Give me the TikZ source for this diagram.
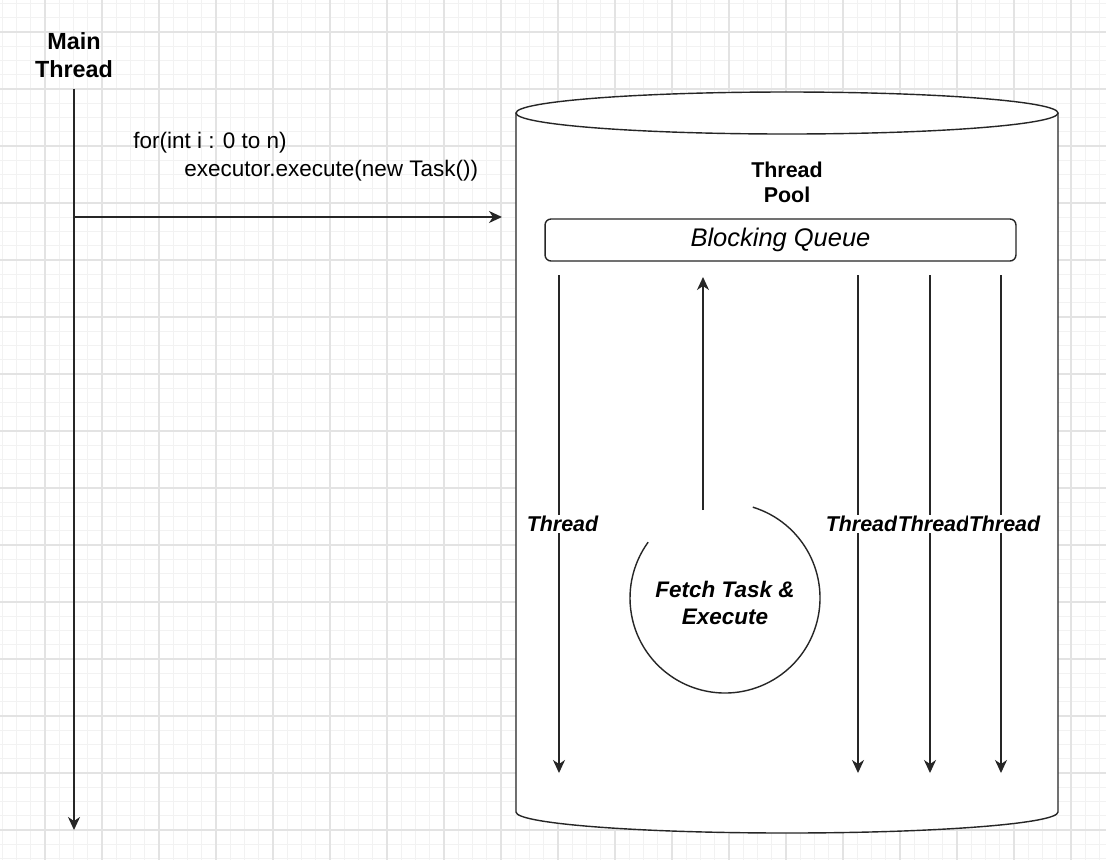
\documentclass[tikz,border=0pt]{standalone}
\usepackage{fontspec}
\setmainfont{Liberation Sans}
\usepackage{tikz}
\usetikzlibrary{arrows.meta, positioning}

\begin{document}
\begin{tikzpicture}[
    x=0.02cm, y=-0.02cm,
    every node/.style={font=\fontsize{12.8}{16.4}\selectfont},
    gridminor/.style={line width=0.4pt, black!5},
    gridmajor/.style={line width=0.6pt, black!11},
    ttl/.style={align=center, inner sep=0pt, font=\fontsize{13.3}{15.9}\selectfont\bfseries},
    pooltl/.style={align=center, inner sep=0pt, font=\fontsize{12.2}{14.2}\selectfont\bfseries},
    codelbl/.style={align=left, inner sep=0pt, font=\fontsize{12.8}{16.4}\selectfont},
    pool/.style={draw=black!85, line width=0.8pt, fill=white},
    queue/.style={rectangle, draw=black!85, line width=0.8pt, rounded corners=0.12cm, minimum width=9.42cm, minimum height=0.84cm, fill=white, text=black, font=\fontsize{14.5}{17}\selectfont\itshape},
    fetchlbl/.style={circle, minimum size=3.8cm, align=center, inner sep=0pt, font=\fontsize{12.8}{15.3}\selectfont\bfseries\itshape},
    thrlbl/.style={fill=white, text=black, inner sep=0.5pt, xshift=0.07cm, font=\fontsize{12.2}{14}\selectfont\bfseries\itshape},
    myarrow/.style={-{Stealth[length=2.6mm, width=2.4mm, inset=0.8mm]}, line width=0.8pt, black!85}
]
\useasboundingbox (0,0) rectangle (1106,860);
\clip (0,0) rectangle (1106,860);

% ── Background grid ──
\fill[white] (0,0) rectangle (1106,860);
\foreach \i in {0,...,77} \draw[gridminor] ({2.25+\i*14.25},0) -- ({2.25+\i*14.25},860);
\foreach \j in {0,...,60} \draw[gridminor] (0,{3.5+\j*14.25}) -- (1106,{3.5+\j*14.25});
\foreach \i in {0,...,18} \draw[gridmajor] ({45+\i*57},0) -- ({45+\i*57},860);
\foreach \j in {0,...,14} \draw[gridmajor] (0,{32+\j*57}) -- (1106,{32+\j*57});

% ── Main thread ──
\node[ttl] (main) at (74,55) {Main\\Thread};
\coordinate (mainbot) at (74,830);
\coordinate (fork) at (74,217);
\coordinate (poolin) at (502,217);

\draw[myarrow] (main.south |- 0,89) -- (mainbot);
\draw[myarrow] (fork) -- (poolin);

\node[codelbl, anchor=north west] (code) at (133,131.5)
    {for(int i : 0 to n)\\\hspace*{1.02cm}executor.execute(new Task())};

% ── Thread pool cylinder ──
\draw[pool] (516,113) -- (516,812)
    arc[start angle=180, end angle=0, x radius=271, y radius=21] -- (1058,113);
\draw[pool] (787,113) ellipse[x radius=271, y radius=21];

\node[pooltl] (pooltitle) at (787,182) {Thread\\Pool};
\node[queue] (queue) at (780.5,240) {Blocking Queue};

% ── Worker threads ──
\coordinate (thAtop) at (559,275);
\coordinate (thAbot) at (559,773);
\coordinate (thBtop) at (858,275);
\coordinate (thBbot) at (858,773);
\coordinate (thCtop) at (930,275);
\coordinate (thCbot) at (930,773);
\coordinate (thDtop) at (1001,275);
\coordinate (thDbot) at (1001,773);

\draw[myarrow] (thAtop) -- node[thrlbl] {Thread} (thAbot);
\draw[myarrow] (thBtop) -- node[thrlbl] {Thread} (thBbot);
\draw[myarrow] (thCtop) -- node[thrlbl] {Thread} (thCbot);
\draw[myarrow] (thDtop) -- node[thrlbl] {Thread} (thDbot);

% ── Fetch cycle ──
\node[fetchlbl] (fetch) at (725,598) {};
\node[fetchlbl, minimum size=0pt] (fetchtxt) at (725,603) {Fetch Task \&\\Execute};
\draw[line width=0.8pt, black!85] ([shift={(-73:95)}]fetch.center)
    arc[start angle=-73, end angle=216, radius=95];

\coordinate (fetchout) at (703,510);
\coordinate (fetchin) at (703,277);
\draw[myarrow] (fetchout) -- (fetchin);

\end{tikzpicture}
\end{document}
